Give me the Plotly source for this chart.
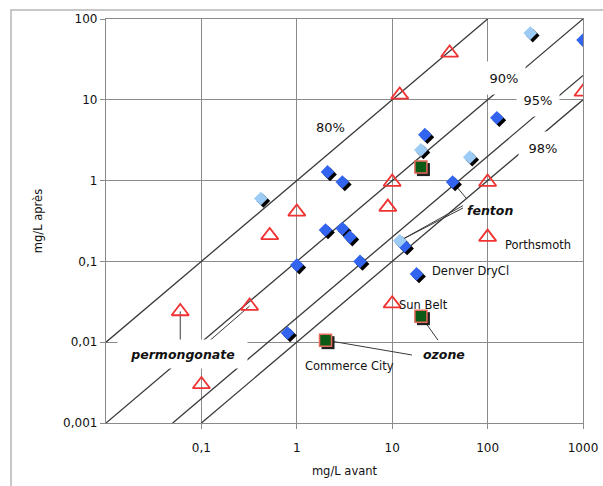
import numpy as np
import plotly.graph_objects as go

# ---------------- data ----------------
blue_x = [1000, 125, 22, 2.1, 3, 43, 2.0, 3.0, 3.6, 1.0, 4.6, 18, 0.8, 13.5]
blue_y = [55, 6, 3.7, 1.28, 0.96, 0.96, 0.245, 0.255, 0.2, 0.09, 0.1, 0.07, 0.013, 0.155]
light_x = [280, 20, 65, 0.42, 12]
light_y = [67, 2.4, 1.95, 0.6, 0.18]
tri_x = [40, 12, 1000, 10, 100, 9, 100, 1.0, 0.52, 0.06, 0.32, 0.1, 10]
tri_y = [38, 11.5, 12.5, 0.96, 0.96, 0.47, 0.2, 0.41, 0.21, 0.024, 0.028, 0.003, 0.03]
green_x = [20, 20, 2]
green_y = [1.47, 0.021, 0.0106]

ratios = [1, 0.1, 0.02, 0.01]          # diagonal reference lines y = r*x
x_ticks = [0.1, 1, 10, 100, 1000]
x_ticktext = ["0,1", "1", "10", "100", "1000"]
y_ticks = [0.001, 0.01, 0.1, 1, 10, 100]
y_ticktext = ["0,001", "0,01", "0,1", "1", "10", "100"]

X_RANGE = [0.01, 1000]
Y_RANGE = [0.001, 100]

# labels: text, x, y, box width, box height
pct_labels = [("80%", 2.23, 4.6, 0, 0), ("90%", 149, 18.6, 40, 30),
              ("95%", 337, 10, 40, 30), ("98%", 381, 2.53, 46, 30)]
name_labels = [("Porthsmoth", 145, 0.16), ("Denver DryCl", 24.9, 0.076),
               ("Sun Belt", 11.2, 0.0288)]
italic_labels = [("fenton", 106, 0.43, 0, 0), ("ozone", 34.9, 0.00714, 0, 0),
                 ("permongonate", 0.064, 0.00714, 127, 26)]
plain_center_labels = [("Commerce City", 3.61, 0.00507)]

# connectors: (label-end x, label-end y, target x, target y)
connectors = [
    (0.06, 0.01, tri_x[9], tri_y[9]),
    (0.117, 0.01, tri_x[10], tri_y[10]),
    (16.1, 0.00695, green_x[2], green_y[2]),
    (30.2, 0.0106, green_x[1], green_y[1]),
    (60.8, 0.59, blue_x[5], blue_y[5]),
    (55.2, 0.458, light_x[4], light_y[4]),
    (55.2, 0.49, light_x[4], light_y[4]),
]

FONT = "DejaVu Sans"
fig = go.Figure()

# diagonal reference lines
for r in ratios:
    xs = max(X_RANGE[0], Y_RANGE[0] / r)
    xe = min(X_RANGE[1], Y_RANGE[1] / r)
    fig.add_trace(go.Scatter(x=[xs, xe], y=[r * xs, r * xe], mode="lines",
                             line=dict(color="#3a3a3a", width=1.3),
                             showlegend=False, hoverinfo="skip"))

# connector lines
for lx, ly, tx, ty in connectors:
    fig.add_trace(go.Scatter(x=[lx, tx], y=[ly, ty], mode="lines",
                             line=dict(color="#3a3a3a", width=1),
                             showlegend=False, hoverinfo="skip"))

# shadows (on shifted overlay axes)
fig.add_trace(go.Scatter(x=blue_x + light_x, y=blue_y + light_y, mode="markers",
                         marker=dict(symbol="diamond", size=10.5, color="black", line=dict(width=0)),
                         xaxis="x2", yaxis="y2", showlegend=False, hoverinfo="skip"))
fig.add_trace(go.Scatter(x=green_x, y=green_y, mode="markers",
                         marker=dict(symbol="square", size=13, color="#202020", line=dict(width=0)),
                         xaxis="x2", yaxis="y2", showlegend=False, hoverinfo="skip"))

# markers
fig.add_trace(go.Scatter(x=tri_x, y=tri_y, mode="markers",
                         marker=dict(symbol="triangle-up-open", size=15, color="#f03232",
                                     line=dict(width=1.8, color="#f03232")),
                         xaxis="x3", yaxis="y3", showlegend=False))
fig.add_trace(go.Scatter(x=blue_x, y=blue_y, mode="markers",
                         marker=dict(symbol="diamond", size=10.5, color="#3264f0", line=dict(width=0)),
                         xaxis="x3", yaxis="y3", showlegend=False))
fig.add_trace(go.Scatter(x=light_x, y=light_y, mode="markers",
                         marker=dict(symbol="diamond", size=10.5, color="#9ccbf5", line=dict(width=0)),
                         xaxis="x3", yaxis="y3", showlegend=False))
fig.add_trace(go.Scatter(x=green_x, y=green_y, mode="markers",
                         marker=dict(symbol="square", size=12, color="#0b5a16",
                                     line=dict(width=1.5, color="#e86a5a")),
                         xaxis="x3", yaxis="y3", showlegend=False))

annotations = []
for t, x, y, w, h in pct_labels:
    a = dict(text=t, x=np.log10(x), y=np.log10(y), xref="x", yref="y", showarrow=False,
             font=dict(family=FONT, size=13, color="#111"))
    if w:
        a.update(bgcolor="white", width=w, height=h)
    annotations.append(a)
for t, x, y in name_labels:
    annotations.append(dict(text=t, x=np.log10(x), y=np.log10(y), xref="x", yref="y",
                            showarrow=False, xanchor="left",
                            font=dict(family=FONT, size=11.5, color="#111")))
for t, x, y in plain_center_labels:
    annotations.append(dict(text=t, x=np.log10(x), y=np.log10(y), xref="x", yref="y",
                            showarrow=False, font=dict(family=FONT, size=11.5, color="#111")))
for t, x, y, w, h in italic_labels:
    a = dict(text="<b><i>" + t + "</i></b>", x=np.log10(x), y=np.log10(y), xref="x", yref="y",
             showarrow=False, font=dict(family=FONT, size=12.5, color="#111"))
    if w:
        a.update(bgcolor="white", width=w, height=h)
    annotations.append(a)

# layout geometry (page body margin removed by post_script)
W, H = 603, 486
L, T, R, B = 106, 19, 20, 63
pw, ph = W - L - R, H - T - B
def px2paper(px, py):
    return (px - L) / pw, (H - B - py) / ph
fx0, fy0 = px2paper(11, 500)
fx1, fy1 = px2paper(620, 10)

sx = 2.5 / 95.4
sy = 2.5 / 80.8
lx0, lx1 = np.log10(X_RANGE[0]), np.log10(X_RANGE[1])
ly0, ly1 = np.log10(Y_RANGE[0]), np.log10(Y_RANGE[1])

axcommon = dict(type="log", showgrid=True, gridcolor="#8a8a8a", gridwidth=1.3,
                showline=True, linecolor="#8a8a8a", linewidth=1.3, mirror=True,
                ticks="outside", ticklen=5, tickcolor="#8a8a8a", zeroline=False,
                automargin=False, ticklabeloverflow="allow",
                tickfont=dict(family=FONT, size=12, color="#111"))

fig.update_layout(
    width=W, height=H, margin=dict(l=L, r=R, t=T, b=B, autoexpand=False),
    paper_bgcolor="white", plot_bgcolor="white", showlegend=False,
    xaxis=dict(range=[lx0, lx1], tickvals=x_ticks, ticktext=x_ticktext,
               ticklabelstandoff=8,
               title=dict(text="mg/L avant", font=dict(family=FONT, size=11.5, color="#111"), standoff=13),
               **axcommon),
    yaxis=dict(range=[ly0, ly1], tickvals=y_ticks, ticktext=y_ticktext,
               title=dict(text="mg/L après", font=dict(family=FONT, size=11.5, color="#111"), standoff=18),
               **axcommon),
    xaxis2=dict(type="log", overlaying="x", range=[lx0 - sx, lx1 - sx], visible=False),
    yaxis2=dict(type="log", overlaying="y", range=[ly0 + sy, ly1 + sy], visible=False),
    xaxis3=dict(type="log", overlaying="x", range=[lx0, lx1], visible=False),
    yaxis3=dict(type="log", overlaying="y", range=[ly0, ly1], visible=False),
    annotations=annotations,
    shapes=[dict(type="rect", xref="paper", yref="paper", x0=fx0, y0=fy0, x1=fx1, y1=fy1,
                 line=dict(color="#b5b5b5", width=1.5), layer="below")],
)

fig.write_html("out.html", config={"displayModeBar": False},
               post_script="document.body.style.margin='0';document.body.style.overflow='hidden';")
